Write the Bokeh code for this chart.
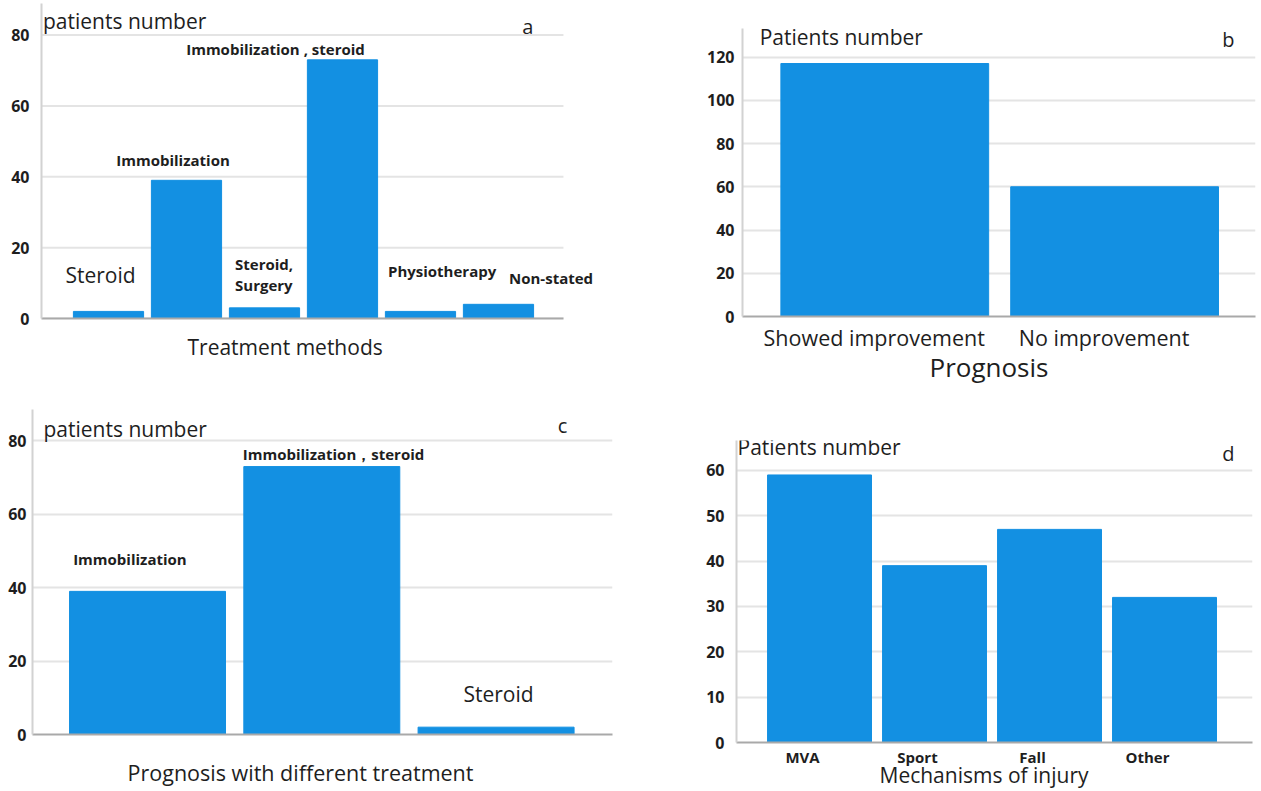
from bokeh.plotting import figure
from bokeh.models import Range1d, FixedTicker, Label, LinearAxis, Title
from bokeh.layouts import column, row
from bokeh.embed import file_html
from bokeh.resources import INLINE

# ---------------- data ----------------
treat_methods = ["Steroid", "Immobilization", "Steroid,\nSurgery",
                 "Immobilization , steroid", "Physiotherapy", "Non-stated"]
treat_counts = [2, 39, 3, 73, 2, 4]

prognosis_cats = ["Showed improvement", "No improvement"]
prognosis_counts = [117, 60]

treat_prog_cats = ["Immobilization", "Immobilization\uff0csteroid", "Steroid"]
treat_prog_counts = [39, 73, 2]

mech_cats = ["MVA", "Sport", "Fall", "Other"]
mech_counts = [59, 39, 47, 32]

# ---------------- style ----------------
FONT = "Open Sans"
BLUE = "#1390e2"
GRID = "#e4e4e4"
TXT = "#1e1e1e"


def make_fig(w, h, xr, yr, left, right, top, bottom, ystep, ystandoff, x_axis=True):
    p = figure(width=w, height=h, x_range=Range1d(*xr), y_range=Range1d(*yr),
               output_backend="svg", toolbar_location=None,
               min_border_left=left, min_border_right=right,
               min_border_top=top, min_border_bottom=bottom,
               x_axis_location="below" if x_axis else None)
    p.frame_align = False
    p.outline_line_color = None
    p.background_fill_color = "white"
    p.border_fill_color = "white"
    p.xgrid.visible = False
    p.ygrid.grid_line_color = GRID
    p.ygrid.grid_line_width = 2
    p.yaxis.ticker = FixedTicker(ticks=list(range(0, int(yr[1]) + 1, ystep)))
    p.yaxis.axis_line_color = "#d2d2d2"
    p.yaxis.axis_line_width = 2
    p.yaxis.major_tick_line_color = None
    p.yaxis.minor_tick_line_color = None
    p.yaxis.major_tick_out = 0
    p.yaxis.major_label_text_font = FONT
    p.yaxis.major_label_text_font_style = "bold"
    p.yaxis.major_label_text_font_size = "16px"
    p.yaxis.major_label_text_color = TXT
    p.yaxis.major_label_standoff = ystandoff
    return p


def style_xaxis(ax):
    ax.axis_line_color = "#a9a9a9"
    ax.axis_line_width = 2
    ax.major_tick_line_color = None
    ax.minor_tick_line_color = None
    ax.major_tick_out = 0
    ax.major_tick_in = 0
    ax.major_label_text_font = FONT
    ax.major_label_text_color = TXT


def add_text(p, x, y, text, size, bold=False, align="left"):
    p.add_layout(Label(x=x, y=y, text=text, text_font=FONT,
                       text_font_size=f"{size}px",
                       text_font_style="bold" if bold else "normal",
                       text_align=align, text_baseline="middle",
                       text_color=TXT))


def add_below_title(p, text, size, offset, standoff):
    p.add_layout(Title(text=text, align="left", offset=offset, standoff=standoff,
                       text_font=FONT, text_font_size=f"{size}px",
                       text_font_style="normal", text_color=TXT), "below")


# ---------------- panel a ----------------
A_END = 5.833  # right end of the drawn grid / baseline
pa = make_fig(620, 390, (-0.859, 6.308), (0, 88.9), 41, 20, 3, 72, 20, 12)
pa.ygrid.visible = False
a_ticks = list(range(0, 81, 20))
pa.segment(x0=[-0.859] * len(a_ticks), x1=[A_END] * len(a_ticks), y0=a_ticks, y1=a_ticks,
           line_color=GRID, line_width=2, level="underlay")
style_xaxis(pa.xaxis[0])
pa.xaxis.ticker = FixedTicker(ticks=[])
pa.xaxis.bounds = (-0.859, A_END)
pa.vbar(x=list(range(len(treat_counts))), top=treat_counts, width=0.9,
        bottom=0, fill_color=BLUE, line_color=BLUE)
add_text(pa, -0.84, 84.1, "patients number", 21)
add_text(pa, 5.375, 82.4, "a", 20, align="center")
add_text(pa, -0.103, 12.4, treat_methods[0], 21, align="center")
add_text(pa, 0.827, 44.6, treat_methods[1], 15, bold=True, align="center")
l1, l2 = treat_methods[2].split("\n")
add_text(pa, 1.622, 15.5, l1, 15, bold=True)
add_text(pa, 1.622, 9.45, l2, 15, bold=True)
add_text(pa, 2.141, 76.2, treat_methods[3], 15, bold=True, align="center")
add_text(pa, 3.583, 13.5, treat_methods[4], 15, bold=True)
add_text(pa, 5.135, 11.3, treat_methods[5], 15, bold=True)
add_below_title(pa, "Treatment methods", 21, 146, 24)

# ---------------- panel b ----------------
B_SHIFT = 0.046  # category labels sit slightly left of the bar centres
pb = make_fig(641, 390, (-0.619, 1.613), (0, 133.2), 122, 6, 28, 74, 20, 8, x_axis=False)
pb.extra_x_ranges = {"lbl": Range1d(-0.619 + B_SHIFT, 1.613 + B_SHIFT)}
xb = LinearAxis(x_range_name="lbl")
style_xaxis(xb)
xb.ticker = FixedTicker(ticks=list(range(len(prognosis_cats))))
xb.major_label_overrides = {i: c for i, c in enumerate(prognosis_cats)}
xb.major_label_text_font_size = "21.5px"
xb.major_label_standoff = 6
pb.add_layout(xb, "below")
pb.vbar(x=list(range(len(prognosis_counts))), top=prognosis_counts, width=0.904,
        bottom=0, fill_color=BLUE, line_color=BLUE)
add_text(pb, -0.544, 129.1, "Patients number", 21)
add_text(pb, 1.495, 128.2, "b", 20, align="center")
add_below_title(pb, "Prognosis", 26, 187, -15)

# ---------------- panel c ----------------
C_TITLE_X = 0.878  # horizontal centre of the x-axis title (data units)
pc = make_fig(620, 401, (-0.66, 2.668), (0, 88.55), 32, 8, 19, 57, 20, 6, x_axis=False)
pc.extra_x_ranges = {"ttl": Range1d(-0.66 - C_TITLE_X, 2.668 - C_TITLE_X)}
xc = LinearAxis(x_range_name="ttl")
style_xaxis(xc)
xc.ticker = FixedTicker(ticks=[0])
xc.major_label_overrides = {0: "Prognosis with different treatment"}
xc.major_label_text_font_size = "21.5px"
xc.major_label_standoff = 23
pc.add_layout(xc, "below")
pc.vbar(x=list(range(len(treat_prog_counts))), top=treat_prog_counts, width=0.895,
        bottom=0, fill_color=BLUE, line_color=BLUE)
add_text(pc, -0.597, 83.2, "patients number", 21)
add_text(pc, 2.381, 84.3, "c", 20, align="center")
add_text(pc, -0.101, 47.8, treat_prog_cats[0], 15, bold=True, align="center")
add_text(pc, 1.067, 76.4, treat_prog_cats[1], 15, bold=True, align="center")
add_text(pc, 2.014, 11.0, treat_prog_cats[2], 21, align="center")

# ---------------- panel d ----------------
D_SHIFT = 0.148  # category labels sit slightly left of the bar centres
pd_ = make_fig(641, 401, (-0.722, 3.765), (0, 66.6), 116, 9, 50, 49, 10, 12, x_axis=False)
pd_.extra_x_ranges = {"lbl": Range1d(-0.722 + D_SHIFT, 3.765 + D_SHIFT)}
xd = LinearAxis(x_range_name="lbl")
style_xaxis(xd)
xd.ticker = FixedTicker(ticks=list(range(len(mech_cats))))
xd.major_label_overrides = {i: c for i, c in enumerate(mech_cats)}
xd.major_label_text_font_size = "15px"
xd.major_label_text_font_style = "bold"
xd.major_label_standoff = 4
pd_.add_layout(xd, "below")
pd_.vbar(x=list(range(len(mech_counts))), top=mech_counts, width=0.904, bottom=0,
         fill_color=BLUE, line_color=BLUE)
add_text(pd_, -0.713, 65.1, "Patients number", 21)
add_text(pd_, 3.556, 63.8, "d", 20, align="center")
add_below_title(pd_, "Mechanisms of injury", 21, 143, -21)

layout = column(row(pa, pb), row(pc, pd_))

open("out.html", "w").write(file_html(layout, INLINE))
